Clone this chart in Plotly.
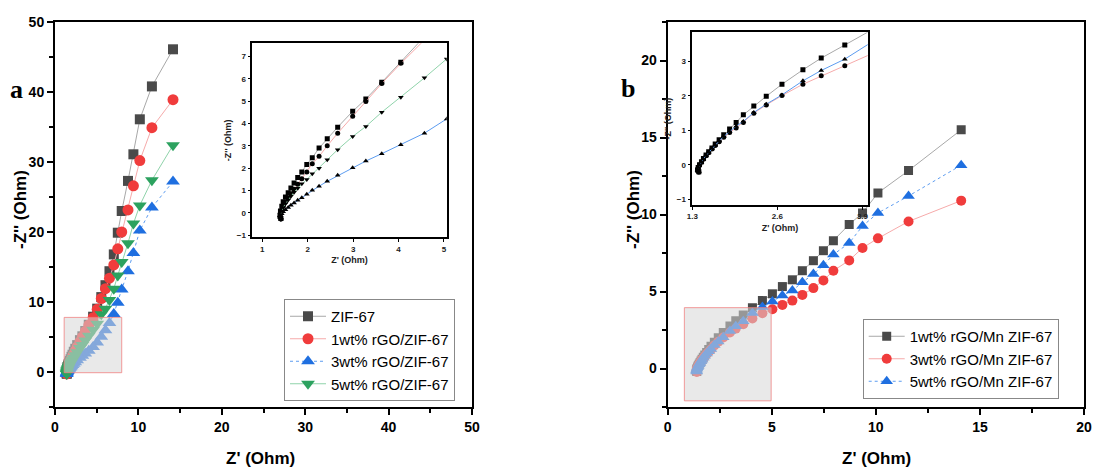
import plotly.graph_objects as go

# ---------------- data: panel a (ZIF-67 series) ----------------
z_re_a = [14.15, 11.62, 10.17, 9.4, 8.75, 8.0, 7.53, 7.05, 6.53, 6.05, 5.55, 5.06, 4.57,
          4.05, 3.63, 3.28, 2.99, 2.66, 2.43, 2.25, 2.10, 1.98, 1.87, 1.78, 1.70, 1.63,
          1.57, 1.51, 1.46, 1.43, 1.40, 1.39, 1.41]
zif67 = [46.1, 40.8, 36.1, 31.1, 27.3, 23.0, 19.9, 16.8, 14.4, 12.4, 10.7, 9.05, 7.9,
         6.75, 5.85, 5.1, 4.55, 3.84, 3.32, 2.9, 2.47, 2.17, 1.83, 1.58, 1.34, 1.11,
         0.9, 0.71, 0.49, 0.29, 0.08, -0.11, -0.26]
rgo1_zif = [38.9, 34.9, 30.2, 26.6, 23.15, 20.0, 17.6, 15.3, 13.4, 11.9, 10.5, 8.95, 7.75,
            6.7, 5.8, 4.99, 4.33, 3.57, 3.0, 2.53, 2.2, 1.83, 1.53, 1.28, 1.05, 0.85,
            0.66, 0.48, 0.3, 0.12, -0.05, -0.18, -0.28]
rgo3_zif = [27.2, 23.5, 20.2, 17.0, 14.4, 11.8, 9.9, 8.3, 7.0, 5.95, 5.05, 4.21, 3.57,
            3.05, 2.65, 2.32, 2.02, 1.68, 1.41, 1.19, 1.01, 0.83, 0.67, 0.56, 0.44, 0.34,
            0.24, 0.14, 0.05, -0.04, -0.13, -0.21, -0.28]
rgo5_zif = [32.4, 27.4, 23.8, 21.2, 18.4, 15.7, 13.8, 11.9, 10.3, 9.05, 8.24, 6.9, 6.05,
            5.18, 4.51, 3.87, 3.42, 2.83, 2.38, 2.0, 1.75, 1.49, 1.3, 1.1, 0.92, 0.74,
            0.57, 0.4, 0.24, 0.08, -0.08, -0.2, -0.3]
names_a = ["ZIF-67", "1wt% rGO/ZIF-67", "3wt% rGO/ZIF-67", "5wt% rGO/ZIF-67"]

# ---------------- data: panel b (Mn ZIF-67 series) ----------------
z_re_b = [14.1, 11.57, 10.1, 9.36, 8.72, 7.96, 7.48, 7.0, 6.47, 5.99, 5.51, 5.03, 4.55,
          4.07, 3.63, 3.27, 2.99, 2.67, 2.43, 2.24, 2.08, 1.97, 1.87, 1.78, 1.71, 1.65,
          1.60, 1.55, 1.51, 1.47, 1.44, 1.41, 1.39, 1.38, 1.40]
mn1 = [15.5, 12.85, 11.4, 10.1, 9.35, 8.3, 7.65, 7.0, 6.35, 5.76, 5.32, 4.85, 4.41,
       3.95, 3.48, 3.10, 2.76, 2.34, 1.99, 1.71, 1.45, 1.23, 1.04, 0.87, 0.73, 0.60,
       0.49, 0.38, 0.28, 0.18, 0.09, 0.0, -0.08, -0.15, -0.2]
mn3 = [10.9, 9.55, 8.45, 7.83, 7.02, 6.35, 5.72, 5.22, 4.78, 4.41, 4.13, 3.85, 3.59,
       3.25, 2.88, 2.59, 2.34, 2.01, 1.74, 1.50, 1.23, 1.07, 0.94, 0.80, 0.67, 0.56,
       0.46, 0.35, 0.26, 0.16, 0.07, -0.01, -0.09, -0.16, -0.22]
mn5 = [13.2, 11.2, 10.1, 9.25, 8.15, 7.4, 6.7, 6.13, 5.6, 5.06, 4.74, 4.35, 4.0,
       3.6, 3.07, 2.74, 2.44, 2.03, 1.76, 1.52, 1.26, 1.12, 0.97, 0.82, 0.69, 0.57,
       0.47, 0.36, 0.27, 0.17, 0.08, 0.0, -0.08, -0.15, -0.2]
names_b = ["1wt% rGO/Mn ZIF-67", "3wt% rGO/Mn ZIF-67", "5wt% rGO/Mn ZIF-67"]

W, H = 1093, 468
def fx(px):
    return px / W
def fy(py):
    return 1 - py / H

GRAY, RED, BLUE, GREEN = "#4a4a4a", "#f03c3c", "#1f6fe0", "#2ca25f"
LGRAY, LRED, LBLUE, LGREEN = "#a8a8a8", "#f6aaaa", "#5c9cf0", "#8fd3aa"
FONT = "Liberation Sans, Arial, sans-serif"

fig = go.Figure()

# ---- panel a, main ----
series_a = [
    (zif67, "square", GRAY, LGRAY, 10, "solid"),
    (rgo1_zif, "circle", RED, LRED, 11, "solid"),
    (rgo3_zif, "triangle-up", BLUE, LBLUE, 12, "dot"),
    (rgo5_zif, "triangle-down", GREEN, LGREEN, 12, "solid"),
]
for (ys, sym, mc, lc, ms, dash), nm in zip(series_a, names_a):
    fig.add_trace(go.Scatter(
        x=z_re_a, y=ys, name=nm, mode="lines+markers",
        marker=dict(symbol=sym, color=mc, size=ms),
        line=dict(color=lc, width=1, dash=dash),
        xaxis="x", yaxis="y", legend="legend"))

# ---- panel a, inset ----
for (ys, sym, mc, lc, ms, dash) in series_a:
    fig.add_trace(go.Scatter(
        x=z_re_a, y=ys, mode="lines+markers", showlegend=False,
        marker=dict(symbol=sym, color="black", size=5),
        line=dict(color=lc, width=1),
        xaxis="x3", yaxis="y3"))

# ---- panel b, main ----
series_b = [
    (mn1, "square", GRAY, LGRAY, 9, "solid"),
    (mn3, "circle", RED, LRED, 10, "solid"),
    (mn5, "triangle-up", BLUE, LBLUE, 11, "dot"),
]
for (ys, sym, mc, lc, ms, dash), nm in zip(series_b, names_b):
    fig.add_trace(go.Scatter(
        x=z_re_b, y=ys, name=nm, mode="lines+markers",
        marker=dict(symbol=sym, color=mc, size=ms),
        line=dict(color=lc, width=1, dash=dash),
        xaxis="x2", yaxis="y2", legend="legend2"))

# ---- panel b, inset ----
for (ys, sym, mc, lc, ms, dash) in series_b:
    fig.add_trace(go.Scatter(
        x=z_re_b, y=ys, mode="lines+markers", showlegend=False,
        marker=dict(symbol=sym, color="black", size=5),
        line=dict(color=lc, width=1),
        xaxis="x4", yaxis="y4"))

tick_font = dict(family=FONT, size=14, color="black", weight="bold")
main_axis = dict(showline=True, linecolor="black", linewidth=2, mirror=True,
                 ticks="outside", ticklen=6, tickwidth=1.5, tickcolor="black",
                 showgrid=False, zeroline=False, tickfont=tick_font, automargin=False,
                 minor=dict(ticks="outside", ticklen=4, tickwidth=1.5, tickcolor="black"))
inset_font = dict(family=FONT, size=8, color="#222", weight="bold")
inset_axis = dict(showline=True, linecolor="black", linewidth=1.5, mirror=True,
                  ticks="outside", ticklen=3, tickwidth=1, tickcolor="black",
                  showgrid=False, zeroline=False, tickfont=inset_font, automargin=False)
inset_title_font = dict(family=FONT, size=9, color="#222", weight="bold")
legend_style = dict(xanchor="left", yanchor="top", bgcolor="white",
                    bordercolor="#888", borderwidth=1,
                    font=dict(family=FONT, size=15, color="black"),
                    tracegroupgap=0, itemwidth=36)

fig.update_layout(
    width=W, height=H,
    margin=dict(l=0, r=0, t=0, b=0, autoexpand=False),
    paper_bgcolor="white", plot_bgcolor="white",
    xaxis=dict(main_axis, domain=[fx(55), fx(472)], range=[0, 50], dtick=10,
               minor=dict(main_axis["minor"], dtick=5), anchor="y"),
    yaxis=dict(main_axis, domain=[fy(407), fy(22)], range=[-5, 50], dtick=10,
               minor=dict(main_axis["minor"], dtick=5), anchor="x"),
    xaxis2=dict(main_axis, domain=[fx(667.7), fx(1084)], range=[0, 20], dtick=5,
                minor=dict(main_axis["minor"], dtick=2.5), anchor="y2"),
    yaxis2=dict(main_axis, domain=[fy(407), fy(22)], range=[-2.5, 22.5], dtick=5,
                minor=dict(main_axis["minor"], dtick=2.5), anchor="x2"),
    xaxis3=dict(inset_axis, domain=[fx(252.3), fx(446.7)], range=[0.78, 5.06],
                dtick=1, anchor="y3",
                title=dict(text="Z' (Ohm)", font=inset_title_font, standoff=4)),
    yaxis3=dict(inset_axis, domain=[fy(237.3), fy(43.3)], range=[-1.1, 7.6],
                dtick=1, anchor="x3",
                title=dict(text="-Z'' (Ohm)", font=inset_title_font, standoff=4)),
    xaxis4=dict(inset_axis, domain=[fx(692.3), fx(867.7)], range=[1.3, 3.98],
                tickvals=[1.3, 2.6, 3.9], anchor="y4",
                title=dict(text="Z' (Ohm)", font=inset_title_font, standoff=4)),
    yaxis4=dict(inset_axis, domain=[fy(205), fy(32.3)], range=[-1.17, 3.85],
                dtick=1, anchor="x4",
                title=dict(text="-Z'' (Ohm)", font=inset_title_font, standoff=4)),
    legend=dict(legend_style, x=fx(284), y=fy(299)),
    legend2=dict(legend_style, x=fx(862.7), y=fy(319)),
    showlegend=True,
)

# zoom-region boxes marking the inset ranges
fig.add_shape(type="rect", xref="x", yref="y", x0=1.1, x1=8.0, y0=-0.1, y1=7.8,
              fillcolor="rgba(215,215,215,0.55)", line=dict(color="rgba(240,130,130,0.8)", width=1),
              layer="above")
fig.add_shape(type="rect", xref="x2", yref="y2", x0=0.8, x1=4.97, y0=-2.1, y1=3.95,
              fillcolor="rgba(215,215,215,0.55)", line=dict(color="rgba(240,130,130,0.8)", width=1),
              layer="above")

title_font = dict(family=FONT, size=17, color="black", weight="bold")
letter_font = dict(family="Liberation Serif, Times New Roman, serif", size=26,
                   color="black", weight="bold")

def label(text, px, py, font, angle=0):
    fig.add_annotation(text=text, x=fx(px), y=fy(py), xref="paper", yref="paper",
                       xanchor="center", yanchor="middle", showarrow=False,
                       font=font, textangle=angle)

label("Z' (Ohm)", 260, 458, title_font)
label("Z' (Ohm)", 876, 458, title_font)
label("-Z'' (Ohm)", 21, 210, title_font, -90)
label("-Z'' (Ohm)", 634, 210, title_font, -90)
label("a", 16, 90, letter_font)
label("b", 628, 88, letter_font)

fig.write_html("out.html")
